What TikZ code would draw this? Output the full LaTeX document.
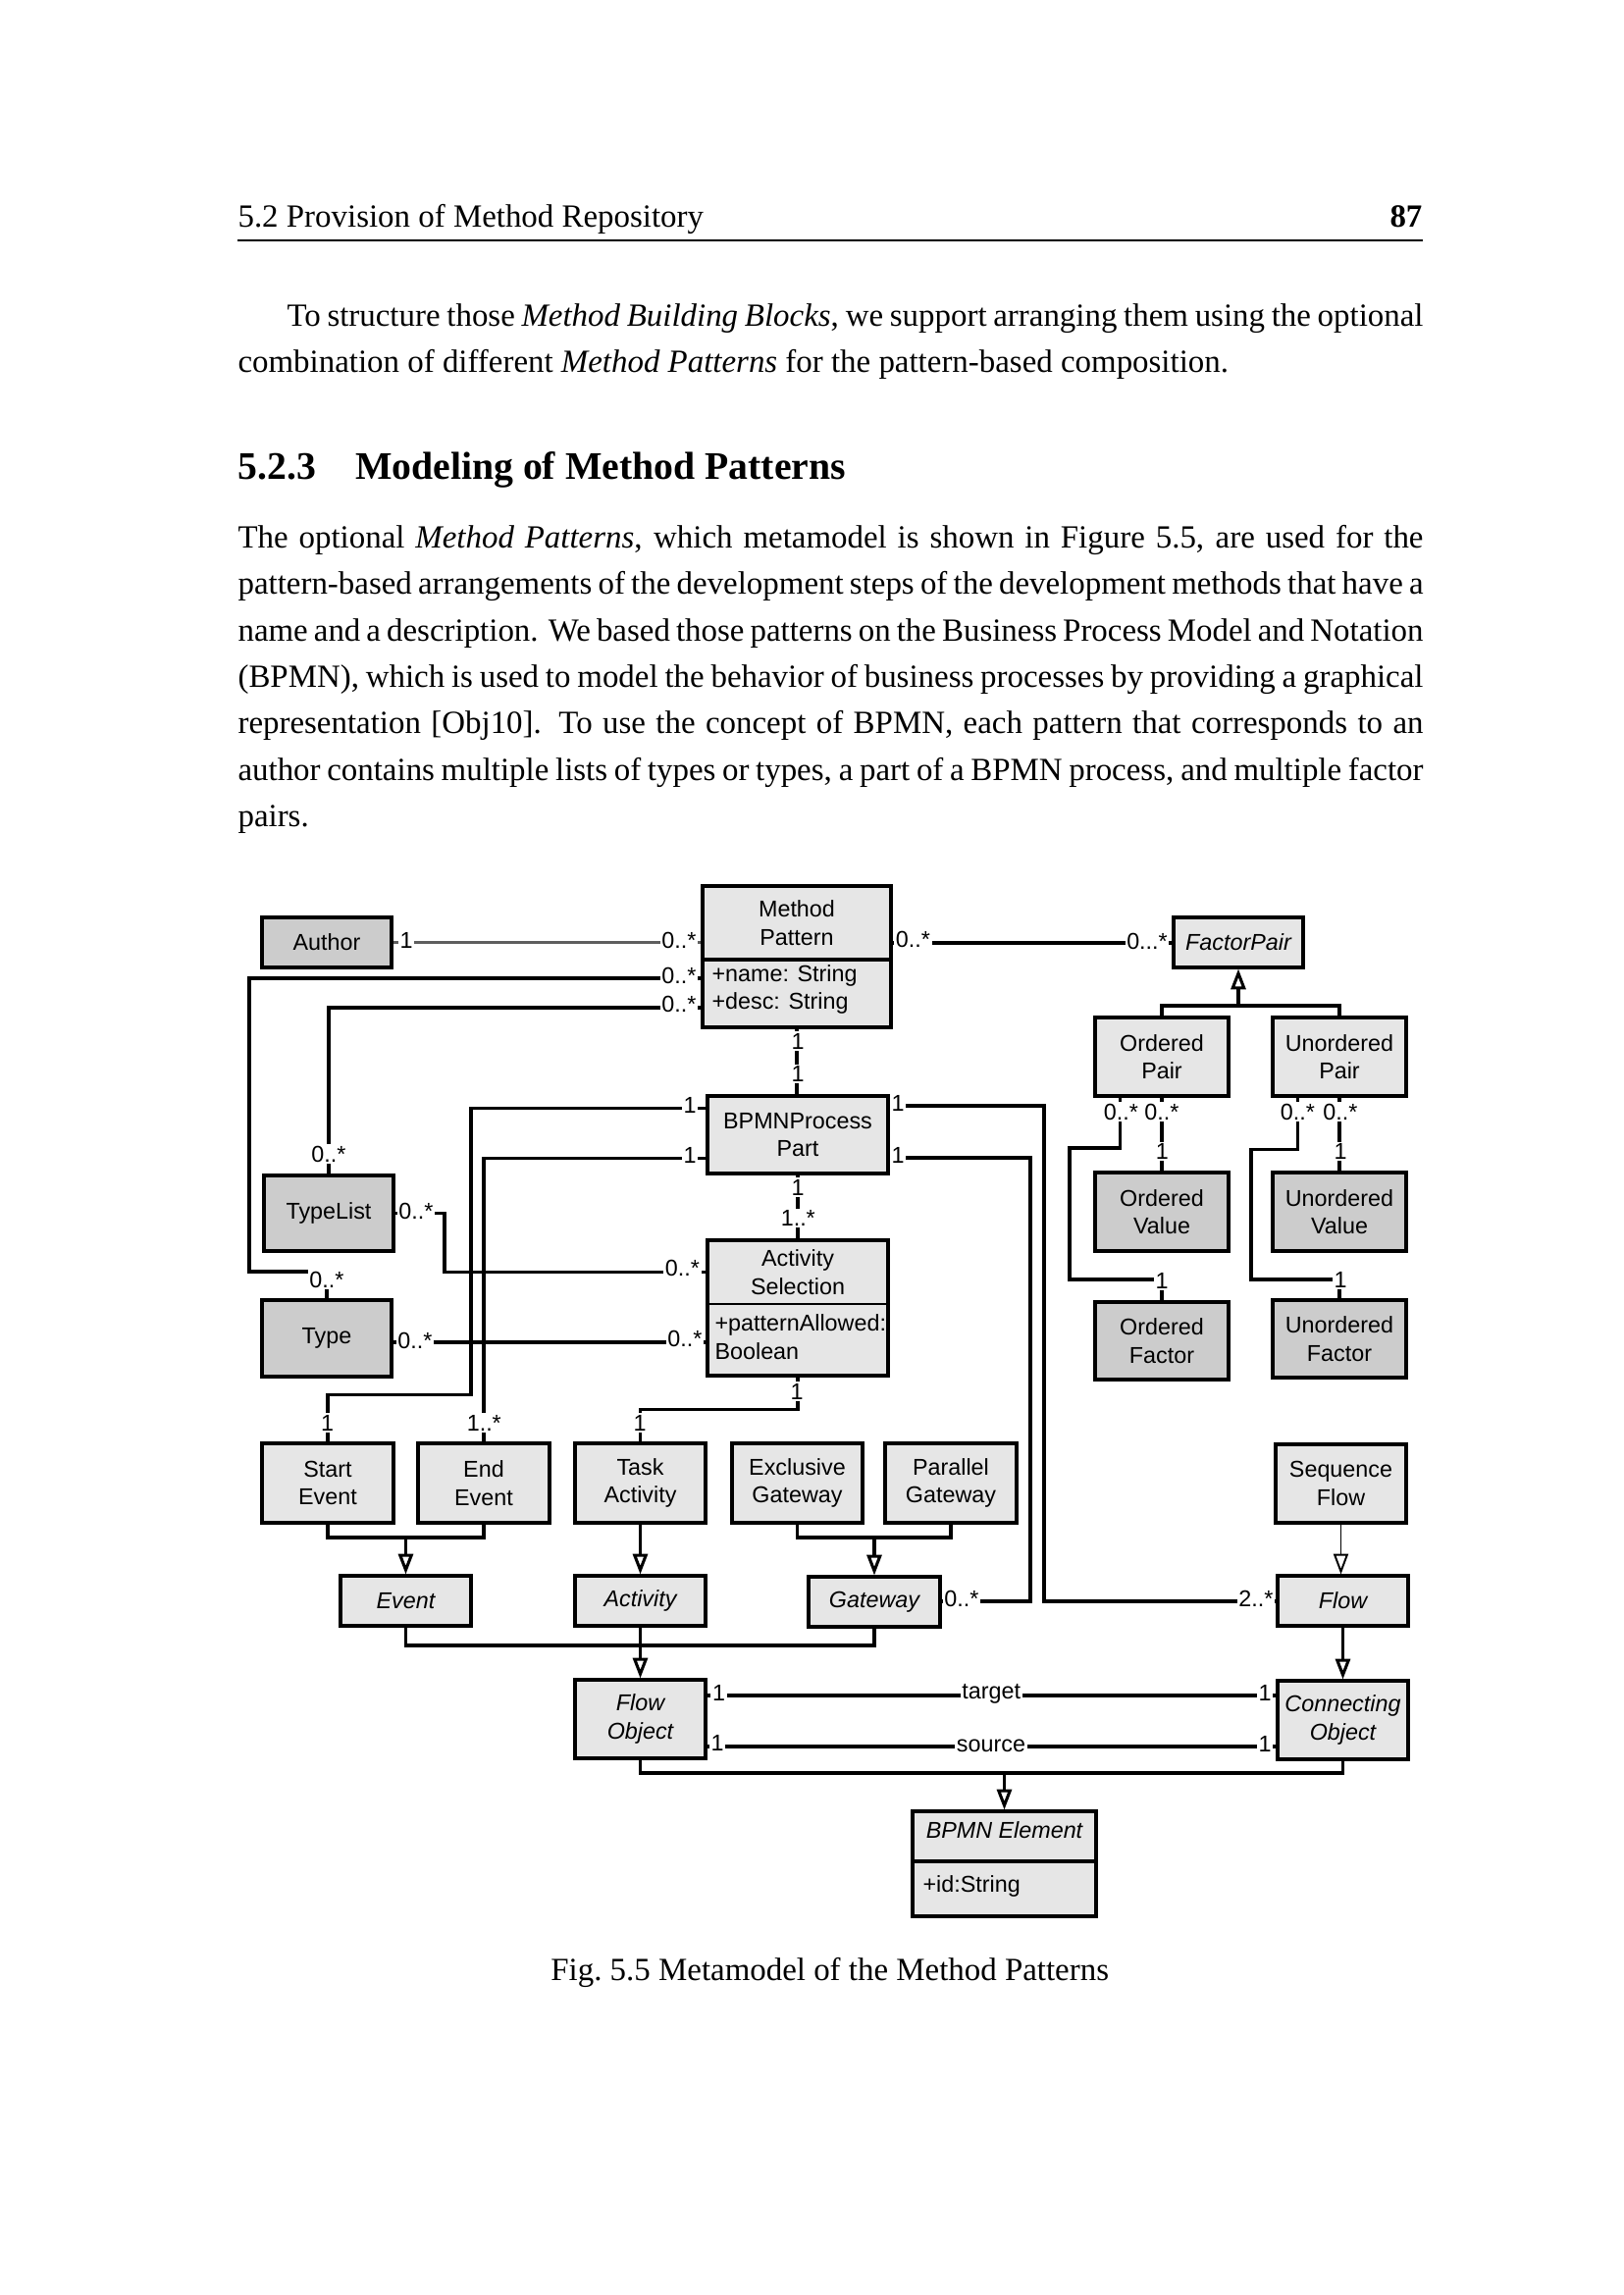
\documentclass[tikz,border=0pt]{standalone}
\usepackage{fontspec}
\setmainfont[WordSpace={1,1.6,1.8}]{Liberation Serif}
\newfontfamily\diagfont{Liberation Sans}
\usetikzlibrary{arrows.meta,fit,calc}
\definecolor{lightbox}{HTML}{E6E6E6}
\definecolor{darkbox}{HTML}{CCCCCC}
\definecolor{assocgray}{HTML}{5E5E5E}
\newcommand\umlbox[6]{%
  \node[#2, fit={(#3) (#4)}] (#1) {};
  \node[txt, #5] (#1-t) at (#1.center) {#6};}
\newcommand\ml[3]{\node[mult] (#1) at (#2) {#3};}
\begin{document}
\begin{tikzpicture}[x=0.36pt,y=-0.36pt,
  box/.style={draw=black, line width=1.1pt, inner sep=0pt},
  lbox/.style={box, fill=lightbox},
  dbox/.style={box, fill=darkbox},
  txt/.style={font=\diagfont\fontsize{8.4}{10.3}\selectfont, align=center, inner sep=0pt},
  itxt/.style={font=\diagfont\itshape\fontsize{8.4}{10.3}\selectfont},
  atxt/.style={font=\diagfont\fontsize{8.4}{10.3}\selectfont, anchor=base west, inner sep=0pt},
  mult/.style={font=\diagfont\fontsize{8.4}{10.3}\selectfont, fill=white, inner sep=0.6pt},
  assoc/.style={line width=1.1pt, draw=black},
  genline/.style={line width=1.1pt},
  gen/.style={line width=1.1pt, -{Triangle[fill=white,length=7.5pt,width=5.4pt]}},
  body/.style={anchor=base west, inner sep=0pt, font=\fontsize{11.85}{14.5}\selectfont},
]
\fill[white] (0,0) rectangle (1654,2339);
\useasboundingbox (0,0) rectangle (1654,2339);

% ---------- page text ----------
\node[body] (hdr) at (242,231.3) {5.2 Provision of Method Repository};
\node[body, anchor=base east, font=\fontsize{11.85}{14.5}\selectfont\bfseries] (pg) at (1450,231.3) {87};
\draw[line width=0.5pt] (hdr.base west |- 0,245) -- (pg.base east |- 0,245);

\node[body] (p1a) at (292,332.5) {\makebox[416.88pt][s]{To structure those \textit{Method Building Blocks}, we support arranging them using the optional}};
\node[body] (p1b) at (242,379.5) {combination of different \textit{Method Patterns} for the pattern-based composition.};

\node[body, font=\fontsize{14.3}{17}\selectfont\bfseries] (secn) at (242,488) {5.2.3};
\node[body, font=\fontsize{14.3}{17}\selectfont\bfseries] (sect) at (361.5,488) {Modeling of Method Patterns};

\node[body] (p2a) at (242,558.5) {\makebox[434.88pt][s]{The optional \textit{Method Patterns}, which metamodel is shown in Figure 5.5, are used for the}};
\node[body] (p2b) at (242,605.8) {\makebox[434.88pt][s]{pattern-based arrangements of the development steps of the development methods that have a}};
\node[body] (p2c) at (242,653.1) {\makebox[434.88pt][s]{name and a description. We based those patterns on the Business Process Model and Notation}};
\node[body] (p2d) at (242,700.4) {\makebox[434.88pt][s]{(BPMN), which is used to model the behavior of business processes by providing a graphical}};
\node[body] (p2e) at (242,747.7) {\makebox[434.88pt][s]{representation [Obj10]. To use the concept of BPMN, each pattern that corresponds to an}};
\node[body] (p2f) at (242,795) {\makebox[434.88pt][s]{author contains multiple lists of types or types, a part of a BPMN process, and multiple factor}};
\node[body] (p2g) at (242,842.3) {pairs.};

\node[body, anchor=base] (cap) at (845.7,2018) {Fig.\ 5.5 Metamodel of the Method Patterns};

% ---------- boxes ----------
\umlbox{author}{dbox}{267,935}{399,986}{}{Author}
\node[lbox, fit={(716,903) (908,1047)}] (mp) {};
\draw[line width=1.1pt] (mp.west |- 0,978) -- (mp.east |- 0,978);
\node[txt] (mp-t) at (812,940.5) {Method\\Pattern};
\node[atxt] (mp-a1) at (725,1000) {+name: String};
\node[atxt] (mp-a2) at (725,1028.3) {+desc: String};

\umlbox{typelist}{dbox}{269,1198}{401,1275}{}{TypeList}
\umlbox{type}{dbox}{267,1325}{399,1403}{}{Type}
\umlbox{bpmn}{lbox}{721,1117}{905,1196}{}{BPMNProcess\\Part}

\node[lbox, fit={(721,1264) (905,1402)}] (as) {};
\draw[line width=0.9pt] (as.west |- 0,1329) -- (as.east |- 0,1329);
\node[txt] (as-t) at (813,1296.5) {Activity\\Selection};
\node[atxt] (as-a1) at (728,1356.7) {+patternAllowed:};
\node[atxt] (as-a2) at (728,1385) {Boolean};

\umlbox{fp}{lbox}{1196,935}{1328,986}{itxt}{FactorPair}
\umlbox{op}{lbox}{1116,1037}{1252,1117}{}{Ordered\\Pair}
\umlbox{up}{lbox}{1297,1037}{1433,1117}{}{Unordered\\Pair}
\umlbox{ov}{dbox}{1116,1195}{1252,1275}{}{Ordered\\Value}
\umlbox{uv}{dbox}{1297,1195}{1433,1275}{}{Unordered\\Value}
\umlbox{of}{dbox}{1116,1327}{1252,1406}{}{Ordered\\Factor}
\umlbox{uf}{dbox}{1297,1325}{1433,1404}{}{Unordered\\Factor}

\umlbox{start}{lbox}{267,1471}{401,1552}{}{Start\\Event}
\umlbox{end}{lbox}{426,1471}{560,1552}{}{End\\Event}
\umlbox{task}{lbox}{586,1471}{719,1552}{}{Task\\Activity}
\umlbox{exgw}{lbox}{746,1471}{879,1552}{}{Exclusive\\Gateway}
\umlbox{pargw}{lbox}{902,1471}{1036,1552}{}{Parallel\\Gateway}
\umlbox{sf}{lbox}{1300,1472}{1433,1552}{}{Sequence\\Flow}

\umlbox{event}{lbox}{347,1606}{480,1657}{itxt}{Event}
\umlbox{activity}{lbox}{586,1606}{719,1657}{itxt}{Activity}
\umlbox{gateway}{lbox}{824,1607}{958,1658}{itxt}{Gateway}
\umlbox{flow}{lbox}{1302,1606}{1435,1657}{itxt}{Flow}
\umlbox{fo}{lbox}{586,1712}{719,1792}{itxt}{Flow\\Object}
\umlbox{co}{lbox}{1302,1713}{1435,1793}{itxt}{Connecting\\Object}

\node[lbox, fit={(930,1846) (1117,1953)}] (be) {};
\draw[line width=1.1pt] (be.west |- 0,1897) -- (be.east |- 0,1897);
\node[txt, itxt, anchor=base] (be-t) at (1023.5,1873) {BPMN Element};
\node[atxt] (be-a) at (940,1928) {+id:String};

% ---------- associations ----------
\draw[assoc, draw=assocgray, line width=1.2pt] (author.east) -- (author.east -| mp.west);
\draw[assoc] (mp.west |- 0,997) -| (254,1296) -| (type.north);
\draw[assoc] (mp.west |- 0,1027) -| (typelist.north);
\draw[assoc] (typelist.east) -| (453,1296.7) -- (as.west |- 0,1296.7);
\draw[assoc] (type.east |- 0,1368) -- (as.west |- 0,1368);
\draw[assoc] (mp.south) -- (mp.south |- bpmn.north);
\draw[assoc] (bpmn.west |- 0,1129.5) -| (480,1421.7) -| (start.north);
\draw[assoc] (bpmn.west |- 0,1180.5) -| (end.north);
\draw[assoc] (bpmn.east |- 0,1180) -| (1050,1632) -- (gateway.east |- 0,1632);
\draw[assoc] (bpmn.east |- 0,1127) -| (1064,1632) -- (flow.west |- 0,1632);
\draw[assoc] (bpmn.south) -- (bpmn.south |- as.north);
\draw[assoc] (as.south) -- (as.south |- 0,1436.7) -| (task.north);
\draw[assoc] (mp.east |- 0,961) -- (fp.west |- 0,961);
\draw[assoc] (op.south) -- (ov.north);
\draw[assoc] (op.south -| 1141.7,0) -- (1141.7,1170) -| (1090,1304) -| (of.north);
\draw[assoc] (up.south) -- (uv.north);
\draw[assoc] (up.south -| 1322.7,0) -- (1322.7,1171.7) -| (1275,1304) -| (uf.north);
\draw[assoc] (fo.east |- 0,1728) -- (co.west |- 0,1728);
\draw[assoc] (fo.east |- 0,1780) -- (co.west |- 0,1780);

% ---------- generalizations ----------
\coordinate (gfp) at (1262,1025);
\draw[genline] (op.north) |- (gfp);
\draw[genline] (up.north) |- (gfp);
\draw[gen] (gfp) -- (fp.south);
\coordinate (gev) at (413.5,1567);
\draw[genline] (start.south) |- (gev);
\draw[genline] (end.south) |- (gev);
\draw[gen] (gev) -- (event.north);
\draw[gen] (task.south) -- (activity.north);
\coordinate (ggw) at (891,1567);
\draw[genline] (exgw.south) |- (ggw);
\draw[genline] (pargw.south) |- (ggw);
\draw[gen] (ggw) -- (gateway.north);
\draw[gen, line width=0.7pt] (sf.south) -- (sf.south |- flow.north);
\coordinate (gfo) at (652.5,1677);
\draw[genline] (event.south) |- (gfo);
\draw[genline] (gateway.south) |- (gfo);
\draw[gen] (activity.south) -- (fo.north);
\draw[gen] (flow.south) -- (co.north);
\coordinate (gbe) at (1023.5,1807);
\draw[genline] (fo.south) |- (gbe);
\draw[genline] (co.south) |- (gbe);
\draw[gen] (gbe) -- (be.north);

% ---------- multiplicities ----------
\ml{m1}{414,958}{1}
\ml{m2}{692,958}{0..*}
\ml{m3}{692,994}{0..*}
\ml{m4}{692,1023}{0..*}
\ml{m5}{333,1304}{0..*}
\ml{m6}{335,1176}{0..*}
\ml{m7}{424,1234}{0..*}
\ml{m8}{423,1366}{0..*}
\ml{m9}{695.5,1292.5}{0..*}
\ml{m10}{698,1364}{0..*}
\ml{m11}{813,1061}{1}
\ml{m12}{813,1094.7}{1}
\ml{m13}{703,1126}{1}
\ml{m14}{703,1177}{1}
\ml{m15}{915,1124}{1}
\ml{m16}{915,1177.5}{1}
\ml{m17}{813,1210}{1}
\ml{m18}{813.3,1241.7}{1..*}
\ml{m19}{812,1418}{1}
\ml{m20}{652,1450}{1}
\ml{m21}{333.5,1450}{1}
\ml{m22}{493.3,1450}{1..*}
\ml{m23}{980,1629}{0..*}
\ml{m24}{1280,1629}{2..*}
\ml{m25}{732.5,1725}{1}
\ml{m26}{731,1776.7}{1}
\ml{m27}{1289,1725}{1}
\ml{m28}{1289,1777.5}{1}
\ml{m29}{1169,959}{0...*}
\ml{m30}{930.5,957.5}{0..*}
\ml{m31}{1142.5,1133.3}{0..*}
\ml{m32}{1184,1133.3}{0..*}
\ml{m33}{1184.3,1173.3}{1}
\ml{m34}{1184,1305}{1}
\ml{m35}{1322.5,1133.3}{0..*}
\ml{m36}{1366,1133.3}{0..*}
\ml{m37}{1366,1173.3}{1}
\ml{m38}{1366,1304}{1}
\node[mult, anchor=base] (tgt) at (1010.3,1731.7) {target};
\node[mult, anchor=base] (src) at (1010,1785) {source};
\end{tikzpicture}
\end{document}
